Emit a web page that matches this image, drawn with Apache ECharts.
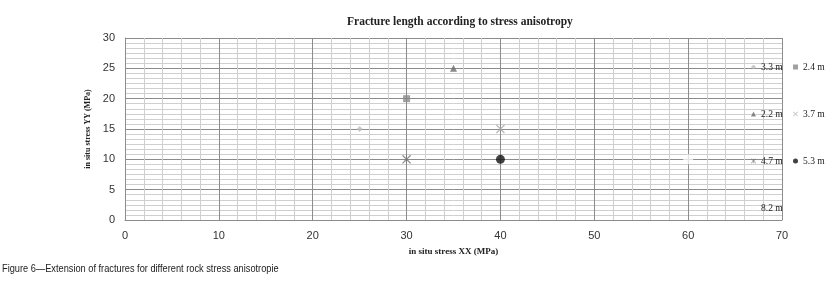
<!DOCTYPE html>
<html>
<head>
<meta charset="utf-8">
<script src="https://cdn.jsdelivr.net/npm/echarts@6/dist/echarts.min.js"></script>
<style>
  html, body { margin: 0; padding: 0; background: #fff; }
  #chart { width: 832px; height: 288px; }
</style>
</head>
<body>
<div id="chart"></div>
<script>
// fracture length per stress pair
var names = ['3.3 m', '2.4 m', '2.2 m', '3.7 m', '4.7 m', '5.3 m', '8.2 m']
var stressXX = [25, 30, 35, 40, 30, 40, 60]
var stressYY = [15, 20, 25, 15, 10, 10, 10]
var xTicks = [0, 10, 20, 30, 40, 50, 60, 70]
var yTicks = [0, 5, 10, 15, 20, 25, 30]

// marker look per series
var looks = [
    {symbol: 'diamond', size: 6, color: '#bdbdbd'},
    {symbol: 'rect', size: 7, color: '#8a8a8a'},
    {symbol: 'triangle', size: 7, color: '#6b6b6b'},
    {symbol: 'path://M1,0L5,4L9,0L10,1L6,5L10,9L9,10L5,6L1,10L0,9L4,5L0,1Z', size: 9, color: '#a8a8a8'},
    {symbol: 'path://M1,0L5,4L9,0L10,1L6,5L10,9L9,10L5,6L1,10L0,9L4,5L0,1ZM4.6,0H5.4V10H4.6Z', size: 9, color: '#707070'},
    {symbol: 'circle', size: 9, color: '#111'},
    {symbol: 'path://M4,0H6V4H10V6H6V10H4V6H0V4H4Z', size: 10, color: '#f7f7f7'}
]

var series = names.map(function (n, i) {
    return {
        name: n,
        type: 'scatter',
        symbol: looks[i].symbol,
        symbolSize: looks[i].size,
        itemStyle: {color: looks[i].color},
        data: [[stressXX[i], stressYY[i]]],
        z: 3
    }
})

var legendText = {fontFamily: 'Liberation Serif', fontSize: 9.5, color: '#222'}

var myChart = echarts.init(document.getElementById('chart'))
var option = {
    animation: false,
    title: {
        text: 'Fracture length according to stress anisotropy',
        left: 342,
        top: 11,
        textStyle: {fontFamily: 'Liberation Serif', fontWeight: 'bold', fontSize: 11.5, color: '#222'}
    },
    legend: [
        {
            orient: 'vertical',
            left: 746,
            top: 57,
            itemWidth: 5,
            itemHeight: 5,
            itemGap: 37,
            textStyle: legendText,
            data: [names[0], names[2], names[4], names[6]]
        },
        {
            orient: 'vertical',
            left: 788,
            top: 57,
            itemWidth: 5,
            itemHeight: 5,
            itemGap: 37,
            textStyle: legendText,
            data: [names[1], names[3], names[5]]
        }
    ],
    grid: {left: 125, right: 50, top: 38, bottom: 68},
    xAxis: {
        type: 'value',
        min: xTicks[0],
        max: xTicks[xTicks.length - 1],
        interval: 10,
        name: 'in situ stress XX (MPa)',
        nameLocation: 'middle',
        nameGap: 27,
        nameTextStyle: {fontFamily: 'Liberation Serif', fontWeight: 'bold', fontSize: 9, color: '#222'},
        axisLine: {show: true, lineStyle: {color: '#8c8c8c'}},
        axisTick: {show: false},
        axisLabel: {fontFamily: 'Liberation Sans', fontSize: 11, color: '#333', margin: 10},
        splitLine: {show: true, lineStyle: {color: '#8c8c8c', width: 1}},
        minorTick: {show: false, splitNumber: 5},
        minorSplitLine: {show: true, lineStyle: {color: '#cfcfcf', width: 1}}
    },
    yAxis: {
        type: 'value',
        min: yTicks[0],
        max: yTicks[yTicks.length - 1],
        interval: 5,
        name: 'in situ stress YY (MPa)',
        nameLocation: 'middle',
        nameGap: 29,
        nameTextStyle: {fontFamily: 'Liberation Serif', fontWeight: 'bold', fontSize: 8, color: '#222'},
        axisLine: {show: true, lineStyle: {color: '#8c8c8c'}},
        axisTick: {show: false},
        axisLabel: {fontFamily: 'Liberation Sans', fontSize: 11, color: '#333', margin: 10},
        splitLine: {show: true, lineStyle: {color: '#8c8c8c', width: 1}},
        minorTick: {show: false, splitNumber: 6},
        minorSplitLine: {show: true, lineStyle: {color: '#cfcfcf', width: 1}}
    },
    graphic: [
        {
            type: 'text',
            x: 2,
            y: 263,
            scaleX: 0.84,
            style: {
                text: 'Figure 6\u2014Extension of fractures for different rock stress anisotropie',
                font: '11px "Liberation Sans"',
                fill: '#222'
            }
        }
    ],
    series: series
}
myChart.setOption(option)
</script>
</body>
</html>
